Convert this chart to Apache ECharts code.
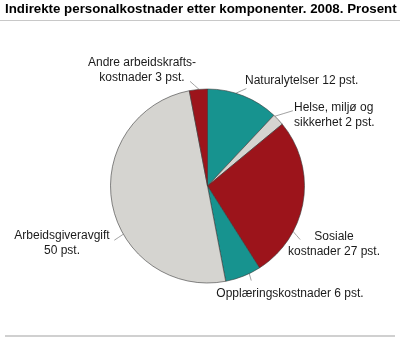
<!DOCTYPE html>
<html>
<head>
<meta charset="utf-8">
<script src="https://cdn.jsdelivr.net/npm/echarts@6/dist/echarts.min.js"></script>
<style>
  html, body { margin: 0; padding: 0; background: #fff; }
  #chart { width: 400px; height: 339px; }
</style>
</head>
<body>
<div id="chart"></div>
<script>
// Components of indirect personnel costs, 2008 (percent)
const categories = [
  'Naturalytelser',
  'Helse, miljø og sikkerhet',
  'Sosiale kostnader',
  'Opplæringskostnader',
  'Arbeidsgiveravgift',
  'Andre arbeidskraftskostnader'
];
const labelTexts = [
  'Naturalytelser 12 pst.',
  'Helse, miljø og\nsikkerhet 2 pst.',
  'Sosiale\nkostnader 27 pst.',
  'Opplæringskostnader 6 pst.',
  'Arbeidsgiveravgift\n50 pst.',
  'Andre arbeidskrafts-\nkostnader 3 pst.'
];
const shares = [12, 2, 27, 6, 50, 3];
const sliceColors = ['#17938f', '#d5d4d0', '#9c141b', '#17938f', '#d5d4d0', '#9c141b'];

// Label block placement: [x, y, align]
const labelSpots = [
  [245, 81, 'left'],
  [294, 115, 'left'],
  [334, 244, 'center'],
  [290, 294, 'center'],
  [62, 243, 'center'],
  [142, 70, 'center']
];
// Leader lines: angle on the rim (deg, clockwise from 12 o'clock) and outward offset [dx, dy]
const leaderSpots = [
  [17, [10.5, -4.7]],
  [44, [18, -5.5]],
  [118, [7, 8]],
  [154.5, [2, 7]],
  [240.2, [-9, 6]],
  [355, [-9, -8]]
];

const CENTER = [207.5, 186];
const RADIUS = 97;

function rimPoint(deg) {
  const a = deg * Math.PI / 180;
  return [CENTER[0] + RADIUS * Math.sin(a), CENTER[1] - RADIUS * Math.cos(a)];
}

const chart = echarts.init(document.getElementById('chart'), null, { renderer: 'canvas' });

chart.setOption({
  animation: false,
  title: {
    text: 'Indirekte personalkostnader etter komponenter. 2008. Prosent',
    left: 5,
    top: 3,
    padding: 0,
    textStyle: { fontFamily: 'Liberation Sans, Arial, sans-serif', fontSize: 13.3, fontWeight: 'bold', color: '#000' }
  },
  graphic: [
    { type: 'rect', shape: { x: 0, y: 20, width: 400, height: 1 }, style: { fill: '#c8c8c8' } },
    { type: 'rect', shape: { x: 5, y: 335, width: 390, height: 2 }, style: { fill: '#d0d0d0' } }
  ],
  series: [{
    type: 'pie',
    center: CENTER,
    radius: [0, RADIUS],
    startAngle: 90,
    clockwise: true,
    data: categories.map((name, i) => ({
      name: name,
      value: shares[i],
      itemStyle: { color: sliceColors[i] }
    })),
    itemStyle: { borderColor: '#3a3a3a', borderWidth: 0.6 },
    label: {
      show: true,
      position: 'outside',
      overflow: 'none',
      fontFamily: 'Liberation Sans, Arial, sans-serif',
      fontSize: 12,
      lineHeight: 15,
      color: '#1a1a1a',
      formatter: p => labelTexts[p.dataIndex]
    },
    labelLine: {
      show: true,
      length: 6,
      length2: 0,
      lineStyle: { color: '#8a8a8a', width: 0.8 }
    },
    labelLayout: params => {
      const i = params.dataIndex;
      const s = labelSpots[i];
      const start = rimPoint(leaderSpots[i][0]);
      const off = leaderSpots[i][1];
      return {
        x: s[0], y: s[1], align: s[2], verticalAlign: 'middle',
        labelLinePoints: [start, [start[0] + off[0] / 2, start[1] + off[1] / 2], [start[0] + off[0], start[1] + off[1]]]
      };
    },
    emphasis: { disabled: true }
  }]
});
</script>
</body>
</html>
